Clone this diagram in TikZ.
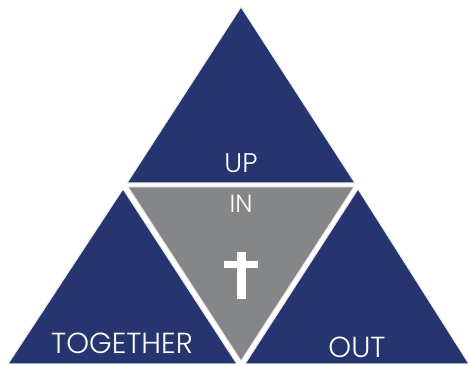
\documentclass[tikz,border=0pt]{standalone}
\usepackage{fontspec}
\newfontfamily\trifont{Poppins Light}
\definecolor{trinavy}{HTML}{26356F}
\definecolor{trigray}{HTML}{858688}
\definecolor{tririm}{HTML}{ECECEE}

\begin{document}
\begin{tikzpicture}[
    x=1pt, y=-1pt,
    side/.style={fill=trinavy, draw=tririm, line width=1pt, line join=miter},
    core/.style={fill=trigray, draw=tririm, line width=1pt, line join=miter},
    word/.style={text=white, inner sep=0pt, anchor=base, font=\trifont\fontsize{27}{27}\selectfont}
]
    \useasboundingbox (0,0) rectangle (469,366);

    % four triangles
    \path[side] (241,7) -- (355,183) -- (127,183) -- cycle;
    \path[side] (123,189) -- (237,364) -- (8,364) -- cycle;
    \path[side] (358,189) -- (469,364) -- (245,364) -- cycle;
    \path[core] (128,187) -- (354,187) -- (241,361) -- cycle;

    % cross
    \fill[white] (237,252) rectangle (246,299);
    \fill[white] (224,261) rectangle (258,268);

    \node[word] (up)  at (241,173) {UP};
    \node[word, font=\trifont\fontsize{25}{25}\selectfont] (in) at (241,213) {IN};
    \node[word, font=\trifont\fontsize{29}{29}\selectfont] (together) at (122,353) {TOGETHER};
    \node[word, font=\trifont\fontsize{29}{29}\selectfont] (out) at (357,357) {OUT};
\end{tikzpicture}
\end{document}
